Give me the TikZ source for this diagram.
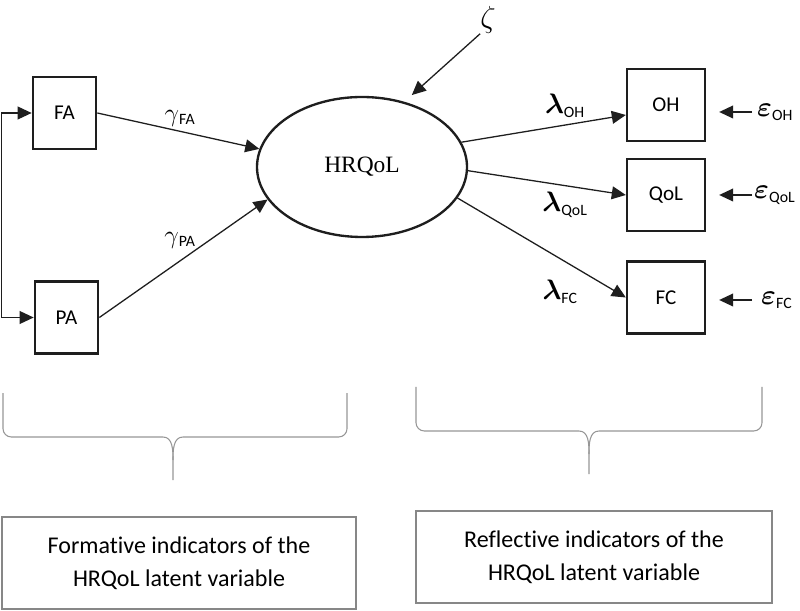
\RequirePackage{fix-cm}
\documentclass[tikz,border=0pt]{standalone}
\usepackage{amsmath, amssymb}
\usepackage{fontspec}
\setmainfont{Carlito}[Ligatures=NoCommon]
\newfontfamily\timesfont{Liberation Serif}
\usepackage{tikz}
\usetikzlibrary{shapes, arrows.meta, positioning, calc}
\definecolor{inkblack}{RGB}{30, 30, 30}
\definecolor{bracegray}{RGB}{150, 150, 150}
\definecolor{notegray}{RGB}{135, 135, 135}
\newcommand{\idx}[1]{\textsubscript{\fontsize{13.5}{13.5}\selectfont #1}}
\tikzset{
  varbox/.style={draw=inkblack, line width=2pt, minimum width=1.9cm, minimum height=2.15cm, inner sep=0pt, font=\fontsize{18}{20}\selectfont},
  link/.style={-{Triangle[length=12pt, width=11pt]}, line width=1.1pt, draw=inkblack},
  covar/.style={{Triangle[length=12pt, width=11pt]}-{Triangle[length=12pt, width=11pt]}, line width=1.1pt, draw=inkblack},
  coef/.style={inner sep=0pt, font=\fontsize{24}{26}\selectfont},
  curl/.style={draw=bracegray, line width=0.9pt},
  note/.style={draw=notegray, line width=1pt, minimum width=10.62cm, minimum height=2.76cm, align=center, font=\fontsize{20.5}{28}\selectfont}
}

\begin{document}
\begin{tikzpicture}
  \useasboundingbox (0,0) rectangle (24,18.3);

  % indicators and latent variable
  \node[varbox] (FA) at (1.935, 14.91) {FA};
  \node[varbox] (PA) at (1.995, 8.775) {PA};
  \node[draw=inkblack, line width=2pt, ellipse, minimum width=6.3cm, minimum height=4.2cm, inner sep=0pt, font=\timesfont\fontsize{20}{22}\selectfont] (hrq) at (10.86, 13.29) {\raisebox{-0.22cm}{HRQoL}};
  \node[varbox, minimum width=2.34cm] (OH) at (19.98, 15.15) {OH};
  \node[varbox, minimum width=2.34cm] (QoL) at (19.98, 12.45) {QoL};
  \node[varbox, minimum width=2.34cm] (FC) at (19.98, 9.375) {FC};

  \node[coef, font=\fontsize{26}{28}\selectfont] (zeta) at (14.64, 17.7) {$\zeta$};
  \node[coef, font=\fontsize{22}{24}\selectfont] (gFA) at (5.4, 14.76) {$\gamma$\idx{FA}};
  \node[coef, font=\fontsize{22}{24}\selectfont] (gPA) at (5.4, 11.1) {$\gamma$\idx{PA}};
  \node[coef] (lOH) at (16.95, 15.12) {$\boldsymbol{\lambda}$\idx{OH}};
  \node[coef] (lQoL) at (16.95, 12.15) {$\boldsymbol{\lambda}$\idx{QoL}};
  \node[coef] (lFC) at (16.8, 9.54) {$\boldsymbol{\lambda}$\idx{FC}};
  \node[coef, anchor=west] (eOH) at (22.71, 14.94) {$\boldsymbol{\varepsilon}$\idx{OH}};
  \node[coef, anchor=west] (eQoL) at (22.62, 12.45) {$\boldsymbol{\varepsilon}$\idx{QoL}};
  \node[coef, anchor=west] (eFC) at (22.83, 9.3) {$\boldsymbol{\varepsilon}$\idx{FC}};

  % paths
  \draw[covar] (FA.west) -- ++(-0.9,0) |- (PA.west);
  \draw[link] (FA.east) -- (hrq.170);
  \draw[link] (PA.east) -- (hrq.199);
  \draw[link, shorten >=0.3cm] (zeta.south west) -- (hrq.57);
  \draw[link] (hrq.14.5) -- ([yshift=-0.3cm]OH.west);
  \draw[link] (hrq.358) -- (QoL.west);
  \draw[link] (hrq.342) -- (FC.west);
  \draw[link, shorten >=0.39cm] ([xshift=-0.15cm]eOH.west) -- (eOH.west -| OH.east);
  \draw[link, shorten >=0.39cm] ([xshift=-0.06cm]eQoL.west) -- (eQoL.west -| QoL.east);
  \draw[link, shorten >=0.39cm] ([xshift=-0.27cm]eFC.west) -- (eFC.west -| FC.east);

  % braces
  \draw[curl] (0.09,6.51) -- (0.09,5.44) to[out=-90, in=180] (0.34,5.19) -- (4.89,5.19) to[out=0, in=90] (5.19,4.5) -- (5.19,3.9);
  \draw[curl] (10.41,6.51) -- (10.41,5.44) to[out=-90, in=0] (10.16,5.19) -- (5.49,5.19) to[out=180, in=90] (5.19,4.5);
  \draw[curl] (12.48,6.69) -- (12.48,5.62) to[out=-90, in=180] (12.73,5.37) -- (17.37,5.37) to[out=0, in=90] (17.67,4.68) -- (17.67,4.08);
  \draw[curl] (22.86,6.69) -- (22.86,5.62) to[out=-90, in=0] (22.61,5.37) -- (17.97,5.37) to[out=180, in=90] (17.67,4.68);

  % notes
  \node[note] (formnote) at (5.37, 1.41) {Formative indicators of the\\HRQoL latent variable};
  \node[note, minimum width=10.68cm] (reflnote) at (17.82, 1.59) {Reflective indicators of the\\HRQoL latent variable};
\end{tikzpicture}
\end{document}
